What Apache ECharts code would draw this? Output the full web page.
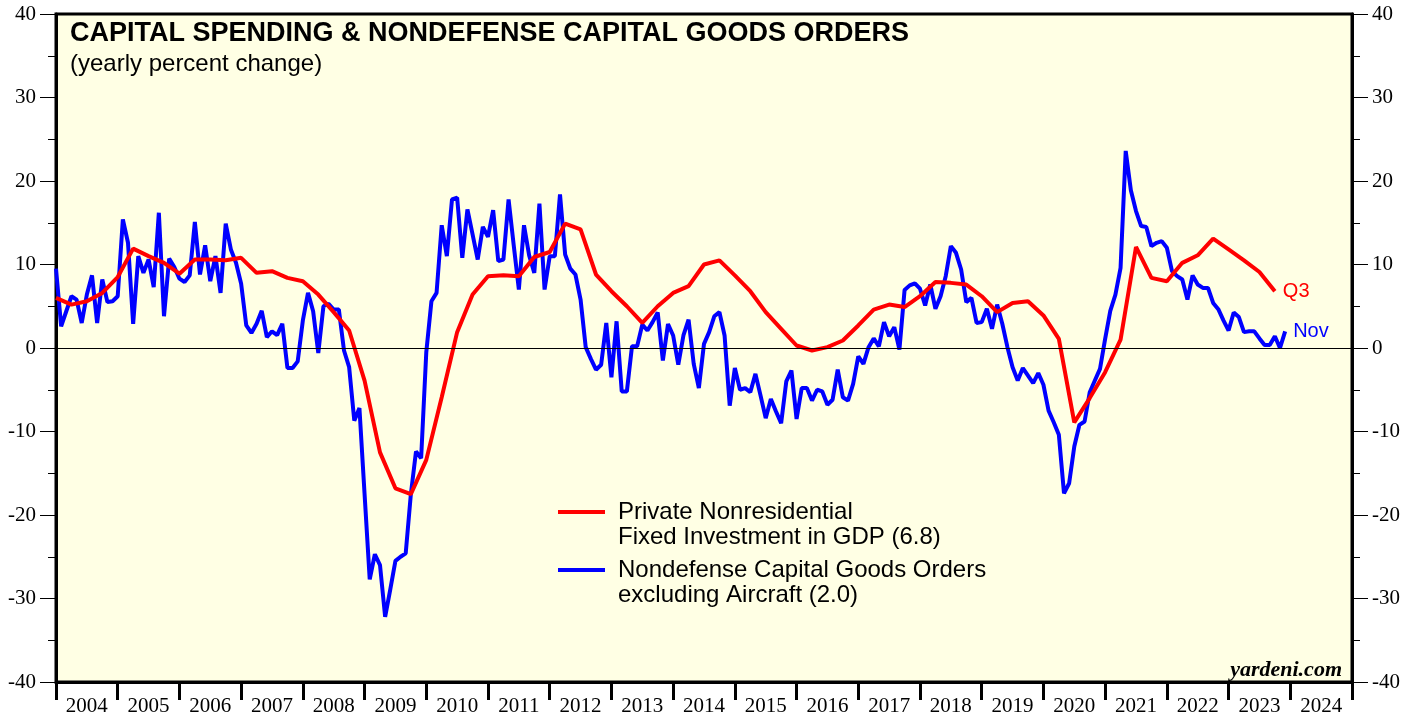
<!DOCTYPE html>
<html>
<head>
<meta charset="utf-8">
<title>Capital Spending & Nondefense Capital Goods Orders</title>
<script src="https://cdn.jsdelivr.net/npm/echarts@6/dist/echarts.min.js"></script>
<style>
	html, body { margin: 0; padding: 0; background: #fff; }
	#chart { width: 1419px; height: 717px; }
</style>
</head>
<body>
<div id="chart"></div>
<script>
// year labels for the bottom axis (centred in each year band)
const years = ["2004", "2005", "2006", "2007", "2008", "2009", "2010", "2011", "2012", "2013", "2014",
	"2015", "2016", "2017", "2018", "2019", "2020", "2021", "2022", "2023", "2024"];

// private nonresidential fixed investment in GDP, y/y %, quarterly Q4 2003 .. Q3 2023
const fixedInvestment = [
	6.0, 5.2, 5.6, 6.6, 8.5, 11.9, 11.0, 10.2, 8.9, 10.6,
	10.6, 10.5, 10.8, 9.0, 9.2, 8.4, 8.0, 6.4, 4.3, 2.1,
	-3.9, -12.5, -16.8, -17.5, -13.4, -5.9, 1.9, 6.4, 8.6, 8.7,
	8.6, 10.9, 11.5, 14.9, 14.2, 8.8, 6.8, 5.0, 3.0, 5.0,
	6.6, 7.4, 10.0, 10.5, 8.7, 6.8, 4.3, 2.3, 0.3, -0.3,
	0.1, 0.9, 2.7, 4.6, 5.2, 4.9, 6.2, 7.9, 7.8, 7.6,
	6.2, 4.3, 5.4, 5.6, 3.9, 1.1, -8.9, -6.0, -2.9, 1.0,
	12.1, 8.4, 8.0, 10.2, 11.1, 13.1, 11.8, 10.5, 9.1, 6.8,
];

// nondefense capital goods orders excluding aircraft, y/y %, monthly Dec 2003 .. Nov 2023
const capGoodsOrders = [
	9.5, 2.6, 4.4, 6.2, 5.8, 3.0, 6.4, 8.7, 3.0, 8.2, 5.5, 5.6,
	6.2, 15.4, 12.6, 2.9, 11.0, 9.0, 10.6, 7.3, 16.2, 3.8, 10.7, 9.7,
	8.3, 7.9, 8.7, 15.1, 8.8, 12.3, 8.0, 11.0, 6.6, 14.9, 11.8, 10.2,
	7.7, 2.7, 1.8, 2.9, 4.45, 1.3, 2.0, 1.55, 2.9, -2.4, -2.4, -1.6,
	3.3, 6.6, 4.4, -0.6, 5.0, 5.3, 4.6, 4.6, -0.3, -2.3, -8.7, -7.2,
	-17.5, -27.7, -24.7, -26.0, -32.2, -28.9, -25.5, -25.0, -24.6, -17.5, -12.4, -13.2,
	-0.5, 5.6, 6.6, 14.7, 11.0, 17.8, 18.0, 10.8, 16.6, 13.6, 10.6, 14.5,
	13.3, 16.5, 10.4, 10.6, 17.8, 12.3, 7.0, 14.7, 11.1, 9.0, 17.3, 7.0,
	11.0, 11.0, 18.4, 11.2, 9.5, 8.8, 5.8, 0.1, -1.3, -2.6, -2.0, 3.0,
	-3.5, 3.2, -5.2, -5.2, 0.2, 0.2, 2.8, 2.1, 3.1, 4.25, -1.5, 2.86,
	1.5, -2.0, 1.5, 3.4, -1.9, -4.8, 0.5, 1.9, 3.8, 4.3, 1.5, -6.9,
	-2.4, -5.0, -4.8, -5.3, -3.1, -5.7, -8.4, -6.1, -7.6, -9.0, -4.0, -2.7,
	-8.5, -4.8, -4.8, -6.3, -5.0, -5.2, -6.8, -6.2, -2.6, -5.9, -6.3, -4.3,
	-1.0, -1.9, 0.1, 1.15, 0.2, 3.1, 1.4, 2.5, -0.2, 6.95, 7.5, 7.75,
	7.1, 5.1, 7.6, 4.7, 6.2, 8.6, 12.2, 11.4, 9.4, 5.5, 6.0, 3.0,
	3.1, 4.7, 2.3, 5.2, 2.9, 0.1, -2.3, -3.9, -2.4, -3.3, -4.2, -3.0,
	-4.4, -7.5, -8.9, -10.4, -17.4, -16.2, -11.8, -9.2, -8.8, -5.3, -3.9, -2.5,
	1.1, 4.45, 6.4, 9.6, 23.6, 18.9, 16.4, 14.6, 14.5, 12.2, 12.6, 12.8,
	12.0, 9.2, 8.6, 8.2, 5.8, 8.7, 7.6, 7.2, 7.2, 5.4, 4.65, 3.3,
	2.1, 4.25, 3.7, 1.9, 2.0, 2.0, 1.15, 0.36, 0.36, 1.4, 0.0, 2.0,
];

// points sit at the end of each period (first one lands on 2004.0)
const redData = fixedInvestment.map((v, i) => [2004 + i / 4, v]);
const blueData = capGoodsOrders.map((v, i) => [2004 + i / 12, v]);

const chart = echarts.init(document.getElementById("chart"));

const serif = "'Liberation Serif', 'Times New Roman', serif";
const sans = "'Liberation Sans', Arial, sans-serif";

// y axis settings shared by left and right side
function valueAxis(position) {
	return {
		type: "value",
		position: position,
		min: -40,
		max: 40,
		interval: 10,
		axisLine: { show: true, lineStyle: { color: "#000", width: 3 } },
		axisTick: { show: true, length: 16, lineStyle: { color: "#000", width: 1 } },
		minorTick: { show: true, splitNumber: 2, length: 8, lineStyle: { color: "#000", width: 1 } },
		splitLine: { show: false },
		axisLabel: { color: "#000", fontFamily: serif, fontSize: 21, margin: 20 },
	};
}

const option = {
	animation: false,
	backgroundColor: "#fff",
	title: [
		{
			text: "CAPITAL SPENDING & NONDEFENSE CAPITAL GOODS ORDERS",
			left: 70,
			top: 20,
			padding: 0,
			textStyle: { color: "#000", fontFamily: sans, fontWeight: "bold", fontSize: 27 },
		},
		{
			text: "(yearly percent change)",
			left: 70,
			top: 52,
			padding: 0,
			textStyle: { color: "#000", fontFamily: sans, fontWeight: "normal", fontSize: 24 },
		},
	],
	grid: {
		left: 56,
		right: 67,
		top: 14,
		bottom: 33,
		show: true,
		backgroundColor: "#FFFFE4",
		borderColor: "#000",
		borderWidth: 3,
	},
	xAxis: [
		{
			// year bands with labels in the middle
			type: "category",
			data: years,
			position: "bottom",
			boundaryGap: true,
			axisLine: { show: true, onZero: false, lineStyle: { color: "#000", width: 3 } },
			axisTick: { show: true, length: 18, lineStyle: { color: "#000", width: 3 } },
			axisLabel: { color: "#000", fontFamily: serif, fontSize: 21, margin: 14, interval: 0 },
			splitLine: { show: false },
		},
		{
			// continuous time scale for the lines
			type: "value",
			min: 2004,
			max: 2025,
			show: false,
		},
	],
	yAxis: [valueAxis("left"), valueAxis("right")],
	series: [
		{
			name: "Nondefense Capital Goods Orders excluding Aircraft (2.0)",
			type: "line",
			xAxisIndex: 1,
			yAxisIndex: 0,
			data: blueData,
			showSymbol: false,
			lineStyle: { color: "#0000FF", width: 4 },
			itemStyle: { color: "#0000FF" },
			endLabel: {
				show: true,
				formatter: "Nov",
				color: "#0000FF",
				fontFamily: sans,
				fontSize: 20,
				distance: 8,
			},
			markLine: {
				silent: true,
				symbol: "none",
				label: { show: false },
				lineStyle: { color: "#000", width: 1, type: "solid" },
				data: [{ yAxis: 0 }],
			},
		},
		{
			name: "Private Nonresidential Fixed Investment in GDP (6.8)",
			type: "line",
			xAxisIndex: 1,
			yAxisIndex: 0,
			data: redData,
			showSymbol: false,
			lineStyle: { color: "#FF0000", width: 4 },
			itemStyle: { color: "#FF0000" },
			endLabel: {
				show: true,
				formatter: "Q3",
				color: "#FF0000",
				fontFamily: sans,
				fontSize: 20,
				distance: 8,
			},
		},
	],
	graphic: [
		// legend block
		{ type: "line", shape: { x1: 558, y1: 512, x2: 605, y2: 512 }, style: { stroke: "#FF0000", lineWidth: 4 } },
		{
			type: "text",
			x: 618,
			y: 512,
			style: { text: "Private Nonresidential", fill: "#000", font: "24px " + sans, textVerticalAlign: "middle" },
		},
		{
			type: "text",
			x: 618,
			y: 537,
			style: { text: "Fixed Investment in GDP (6.8)", fill: "#000", font: "24px " + sans, textVerticalAlign: "middle" },
		},
		{ type: "line", shape: { x1: 558, y1: 570, x2: 605, y2: 570 }, style: { stroke: "#0000FF", lineWidth: 4 } },
		{
			type: "text",
			x: 618,
			y: 570,
			style: { text: "Nondefense Capital Goods Orders", fill: "#000", font: "24px " + sans, textVerticalAlign: "middle" },
		},
		{
			type: "text",
			x: 618,
			y: 595,
			style: { text: "excluding Aircraft (2.0)", fill: "#000", font: "24px " + sans, textVerticalAlign: "middle" },
		},
		// source note
		{
			type: "text",
			right: 77,
			top: 659,
			style: { text: "yardeni.com", fill: "#000", font: "italic bold 22px " + serif },
		},
	],
};

chart.setOption(option);
window.addEventListener("resize", () => chart.resize());
</script>
</body>
</html>
